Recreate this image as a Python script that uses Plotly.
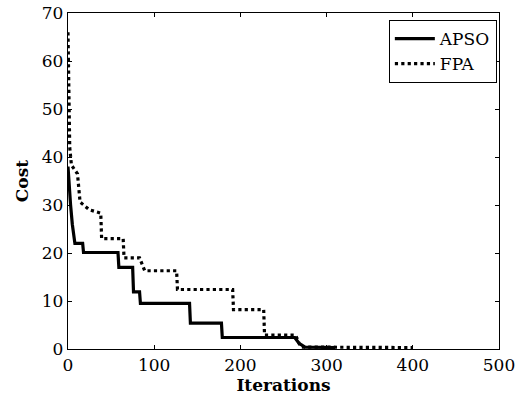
import plotly.graph_objects as go

# APSO (solid) convergence curve: iteration, cost
apso_x = [0, 1, 3, 5, 8, 17, 18, 58, 59, 75, 76, 83, 84, 141, 142, 178, 179, 263, 268, 275, 310]
apso_y = [38, 35, 30, 26, 22, 22, 20.1, 20.1, 17, 17, 11.9, 11.9, 9.5, 9.5, 5.4, 5.4, 2.4, 2.4, 1.2, 0.4, 0.3]

# FPA (dotted) convergence curve: iteration, cost
fpa_x = [0, 1, 2, 4, 11, 14, 25, 38, 39, 64, 65, 83, 89, 126, 127, 191, 192, 227, 228, 264, 270, 400]
fpa_y = [66, 55, 42, 38.3, 36.5, 30.6, 29, 28.3, 23, 23, 19, 19, 16.3, 16.3, 12.4, 12.4, 8.2, 8.2, 2.9, 2.9, 0.4, 0.3]

x_ticks = [0, 100, 200, 300, 400, 500]
y_ticks = [0, 10, 20, 30, 40, 50, 60, 70]

font_family = "DejaVu Serif"

fig = go.Figure()
fig.add_trace(go.Scatter(x=apso_x, y=apso_y, mode="lines", name="APSO",
                         line=dict(color="black", width=3.2)))
fig.add_trace(go.Scatter(x=fpa_x, y=fpa_y, mode="lines", name="FPA",
                         line=dict(color="black", width=3.2, dash="dot")))

axis_common = dict(showline=True, linecolor="black", linewidth=1.3, mirror="ticks",
                   ticks="inside", ticklen=4, tickcolor="black", showgrid=False,
                   zeroline=False, automargin=False, ticklabeloverflow="allow",
                   tickfont=dict(family=font_family, size=17, color="black"))

fig.update_layout(
    width=521, height=404,
    margin=dict(l=68, r=22, t=13, b=55),
    paper_bgcolor="white", plot_bgcolor="white",
    font=dict(family=font_family, color="black"),
    xaxis=dict(range=[0, 500], tickvals=x_ticks, ticktext=[str(v) for v in x_ticks],
               title=dict(text="<b>Iterations</b>", font=dict(size=17, family=font_family), standoff=2),
               **axis_common),
    yaxis=dict(range=[0, 70], tickvals=y_ticks, ticktext=[str(v) for v in y_ticks],
               title=dict(text="<b>Cost</b>", font=dict(size=17, family=font_family), standoff=8),
               **axis_common),
    legend=dict(x=0.995, y=0.979, xanchor="right", yanchor="top",
                bgcolor="white", bordercolor="black", borderwidth=1,
                font=dict(family=font_family, size=17, color="black"),
                itemwidth=40, tracegroupgap=0),
    showlegend=True,
)

fig.write_html("out.html", config={"displayModeBar": False},
               post_script="document.body.style.margin='0px';document.body.style.overflow='hidden';")
